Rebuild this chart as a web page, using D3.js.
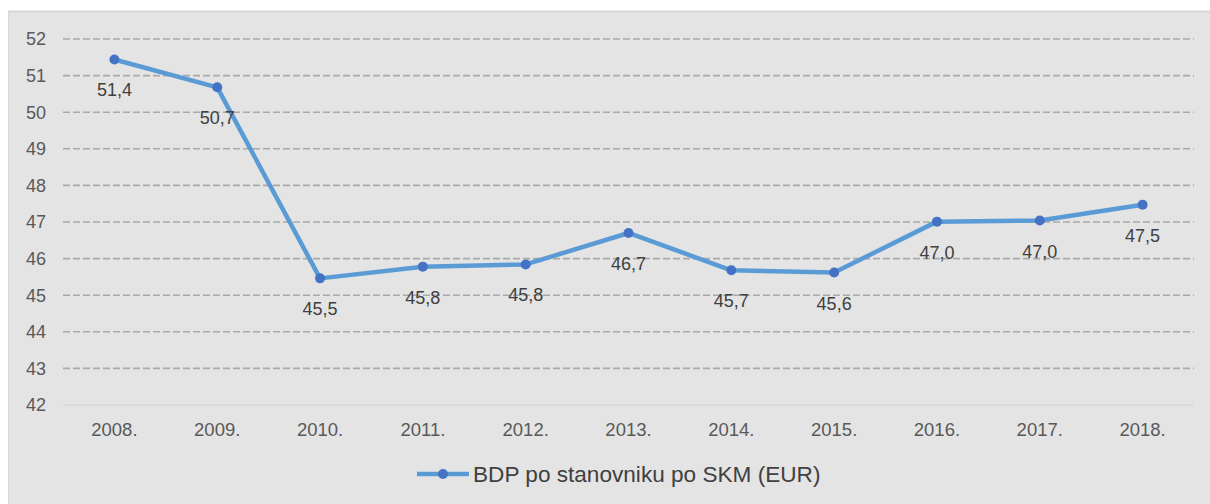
<!DOCTYPE html>
<html>
<head>
<meta charset="utf-8">
<script src="https://cdn.jsdelivr.net/npm/d3@7"></script>
<style>
  body { margin: 0; background: #fff; }
  svg { display: block; font-family: "Liberation Sans", Arial, sans-serif; }
</style>
</head>
<body>
<div id="chart"></div>
<script>
var width = 1210;
var height = 504;

// data
var years = ["2008.", "2009.", "2010.", "2011.", "2012.", "2013.", "2014.", "2015.", "2016.", "2017.", "2018."];
var values = [51.44, 50.68, 45.46, 45.78, 45.84, 46.7, 45.68, 45.62, 47.01, 47.04, 47.47];
var yTicks = [42, 43, 44, 45, 46, 47, 48, 49, 50, 51, 52];
var seriesName = "BDP po stanovniku po SKM (EUR)";

var x = d3.scaleBand()
  .domain(years)
  .range([63, 1194]);

var y = d3.scaleLinear()
  .domain([42, 52])
  .range([405, 39]);

var svg = d3.select("#chart").append("svg")
  .attr("width", width)
  .attr("height", height);

// panel background
svg.append("rect")
  .attr("x", 8).attr("y", 11)
  .attr("width", width - 8).attr("height", height - 11)
  .attr("fill", "#e4e4e4");
svg.append("line")
  .attr("x1", 8).attr("x2", width)
  .attr("y1", 11.5).attr("y2", 11.5)
  .attr("stroke", "#d6d6d6").attr("stroke-width", 2);
svg.append("line")
  .attr("x1", 8.5).attr("x2", 8.5)
  .attr("y1", 11).attr("y2", height)
  .attr("stroke", "#d9d9d9").attr("stroke-width", 1);

// grid
var gGrid = svg.append("g");
gGrid.selectAll("line")
  .data(yTicks)
  .join("line")
    .attr("x1", 63)
    .attr("x2", 1194)
    .attr("y1", d => y(d))
    .attr("y2", d => y(d))
    .attr("stroke", d => d === 42 ? "#d2d2d2" : "#a9a9a9")
    .attr("stroke-width", d => d === 42 ? 1 : 1.6)
    .attr("stroke-dasharray", d => d === 42 ? null : "7,3");

// y axis labels
svg.append("g")
  .selectAll("text")
  .data(yTicks)
  .join("text")
    .attr("x", 46)
    .attr("y", d => y(d))
    .attr("dy", "0.35em")
    .attr("text-anchor", "end")
    .attr("fill", "#595959")
    .attr("font-size", 18)
    .text(d => d);

// x axis labels
svg.append("g")
  .selectAll("text")
  .data(years)
  .join("text")
    .attr("x", d => x(d) + x.bandwidth() / 2)
    .attr("y", 436)
    .attr("text-anchor", "middle")
    .attr("fill", "#595959")
    .attr("font-size", 18.5)
    .text(d => d);

var pts = years.map((yr, i) => ({yr: yr, v: values[i]}));

var line = d3.line()
  .x(d => x(d.yr) + x.bandwidth() / 2)
  .y(d => y(d.v));

svg.append("path")
  .datum(pts)
  .attr("fill", "none")
  .attr("stroke", "#5b9bd5")
  .attr("stroke-width", 4.5)
  .attr("stroke-linejoin", "round")
  .attr("d", line);

svg.append("g")
  .selectAll("circle")
  .data(pts)
  .join("circle")
    .attr("cx", d => x(d.yr) + x.bandwidth() / 2)
    .attr("cy", d => y(d.v))
    .attr("r", 5)
    .attr("fill", "#4472c4");

svg.append("g")
  .selectAll("text")
  .data(pts)
  .join("text")
    .attr("x", d => x(d.yr) + x.bandwidth() / 2)
    .attr("y", d => y(d.v) + 37)
    .attr("text-anchor", "middle")
    .attr("fill", "#404040")
    .attr("font-size", 18)
    .text(d => d.v.toFixed(1).replace(".", ","));

// legend
var lg = svg.append("g").attr("transform", "translate(417,474)");
lg.append("line")
  .attr("x1", 0).attr("x2", 52)
  .attr("stroke", "#5b9bd5").attr("stroke-width", 4.5);
lg.append("circle")
  .attr("cx", 26).attr("r", 5)
  .attr("fill", "#4472c4");
lg.append("text")
  .attr("x", 56)
  .attr("dy", "0.35em")
  .attr("fill", "#404040")
  .attr("font-size", 22.6)
  .text(seriesName);
</script>
</body>
</html>
